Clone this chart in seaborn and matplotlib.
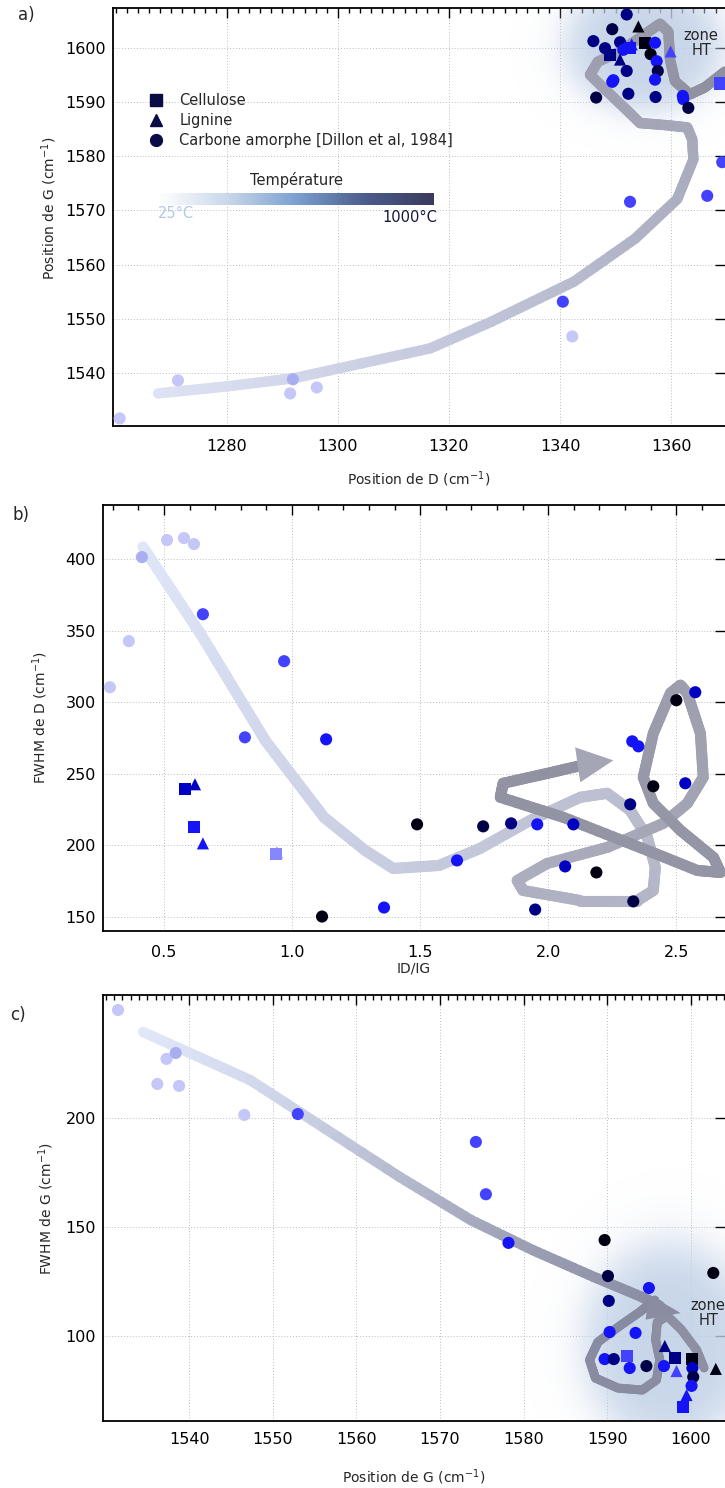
import numpy as np
import pandas as pd
import seaborn as sns
import matplotlib.pyplot as plt
from matplotlib.collections import LineCollection
from matplotlib.colors import LinearSegmentedColormap, Normalize, to_rgb
from matplotlib.lines import Line2D
from matplotlib.patches import Polygon
from matplotlib.ticker import MultipleLocator
import matplotlib.cm as cm

sns.set_style('white')
plt.rcParams['font.family'] = ['DejaVu Sans']
plt.rcParams['mathtext.default'] = 'regular'

# temperature shade of each point: 0 = low temperature (pale) ... 8 = 1000°C (black)
shade_colors = ['#c4c7f7', '#a9aef0', '#8686ff', '#4343ff', '#1414f6',
                '#0000c4', '#000084', '#000046', '#000012']
kind_names = {'S': 'Cellulose', 'L': 'Lignine', 'C': 'Carbone amorphe [Dillon et al, 1984]'}
kind_markers = {'S': 's', 'L': '^', 'C': 'o'}

# ---------------- a) position D vs position G
a_kind = ['C', 'C', 'L', 'C', 'C', 'C', 'S', 'C', 'S', 'L', 'L', 'S', 'C', 'C', 'C', 'L', 'C', 'C', 'C',
          'C', 'C', 'C', 'C', 'C', 'C', 'C', 'C', 'S', 'C', 'C', 'C', 'C', 'C', 'C', 'C', 'C', 'C', 'C']
a_posD = [1352.0, 1349.4, 1354.1, 1346.0, 1348.1, 1350.8, 1349.0, 1351.4, 1352.6, 1352.9, 1350.8, 1355.3,
          1357.1, 1356.3, 1357.4, 1359.9, 1352.0, 1357.6, 1349.4, 1349.6, 1357.1, 1352.3, 1346.5, 1357.2,
          1362.1, 1362.2, 1363.1, 1368.8, 1369.2, 1366.5, 1352.6, 1340.5, 1342.2, 1271.2, 1291.9, 1291.4,
          1296.2, 1260.7]
a_posG = [1606.1, 1603.4, 1603.9, 1601.2, 1599.9, 1601.0, 1598.7, 1599.6, 1599.9, 1600.6, 1597.8, 1600.9,
          1600.9, 1598.8, 1597.5, 1599.3, 1595.7, 1595.7, 1593.7, 1594.0, 1594.1, 1591.5, 1590.8, 1590.9,
          1591.1, 1590.5, 1588.9, 1593.4, 1578.9, 1572.7, 1571.6, 1553.2, 1546.8, 1538.7, 1538.9, 1536.3,
          1537.4, 1531.7]
a_shade = [6, 7, 8, 6, 6, 6, 6, 4, 4, 4, 6, 8, 4, 8, 4, 3, 6, 7, 4, 4, 4, 6, 7, 6, 4, 4, 7, 3, 3, 3, 3, 3,
           0, 0, 1, 0, 0, 0]
a_xticks = [1280, 1300, 1320, 1340, 1360]
a_yticks = [1540, 1550, 1560, 1570, 1580, 1590, 1600]

# ---------------- b) ID/IG vs FWHM D
b_kind = ['C'] * 14 + ['S', 'L', 'S', 'L', 'S', 'L'] + ['C'] * 15
b_ratio = [0.289, 0.363, 0.414, 0.512, 0.578, 0.617, 0.652, 0.969, 0.816, 1.133, 2.574, 2.500, 2.328, 2.352,
           0.582, 0.621, 0.617, 0.652, 0.938, 0.941,
           1.117, 1.359, 1.488, 1.644, 1.746, 1.855, 1.957, 2.098, 1.949, 2.066, 2.188, 2.332, 2.320, 2.410,
           2.535]
b_fwhmD = [310.5, 342.7, 401.4, 413.3, 414.7, 410.5, 361.5, 328.7, 275.5, 274.1, 307.0, 301.4, 272.7, 269.2,
           239.2, 242.7, 212.6, 201.4, 193.7, 195.1,
           150.3, 156.6, 214.7, 189.5, 213.3, 215.4, 214.7, 214.7, 155.2, 185.3, 181.1, 160.9, 228.7, 241.3,
           243.4]
b_shade = [0, 0, 1, 0, 0, 0, 3, 3, 3, 4, 5, 8, 4, 4,
           5, 5, 4, 4, 2, 2,
           8, 4, 8, 4, 7, 6, 4, 5, 6, 5, 8, 7, 6, 8, 5]
b_xticks = [0.5, 1.0, 1.5, 2.0, 2.5]
b_yticks = [150, 200, 250, 300, 350, 400]

# ---------------- c) position G vs FWHM G
c_kind = ['C'] * 17 + ['L', 'C', 'C', 'S', 'C', 'C', 'C', 'S', 'S', 'L', 'C', 'C', 'C', 'L', 'L', 'S']
c_posG = [1531.5, 1537.3, 1538.4, 1536.2, 1538.8, 1546.6, 1553.0, 1574.3, 1575.5, 1578.2, 1589.7, 1590.1,
          1590.2, 1602.7, 1595.0, 1590.3, 1593.4, 1596.9, 1589.7, 1590.8, 1592.4, 1592.7, 1594.7, 1596.8,
          1598.1, 1600.1, 1598.3, 1600.2, 1600.3, 1600.1, 1603.0, 1599.5, 1599.1]
c_fwhmG = [249.5, 227.1, 229.8, 215.6, 214.7, 201.4, 201.8, 189.0, 165.0, 142.7, 144.0, 127.5,
           116.1, 128.9, 122.0, 101.8, 101.4, 95.4, 89.4, 89.4, 90.8, 85.3, 86.2, 86.2,
           89.9, 89.4, 83.9, 85.3, 81.2, 77.1, 84.9, 72.9, 67.4]
c_shade = [0, 0, 1, 0, 0, 0, 3, 3, 3, 4, 8, 7, 6, 8, 4, 4, 4, 6, 4, 6, 3, 4, 7, 4, 6, 8, 3, 5, 7, 4, 8, 4, 4]
c_xticks = [1540, 1550, 1560, 1570, 1580, 1590, 1600]
c_yticks = [100, 150, 200]

# guide bands (hand traced)
band_a_D = [1267.6, 1280.0, 1292.1, 1316.6, 1327.6, 1342.5, 1353.5, 1361.1, 1364.0, 1363.8, 1362.9, 1359.3,
            1354.4, 1351.9, 1348.1, 1345.4, 1346.8, 1350.8, 1355.7, 1358.0, 1359.5, 1359.8, 1360.7, 1363.4,
            1366.1, 1369.7]
band_a_G = [1536.3, 1537.6, 1539.1, 1544.6, 1549.5, 1556.9, 1564.8, 1572.1, 1579.4, 1583.1, 1585.3, 1585.7,
            1586.1, 1588.6, 1592.3, 1595.0, 1597.4, 1599.3, 1602.8, 1604.4, 1602.9, 1597.8, 1593.8, 1591.4,
            1592.7, 1595.6]
band_b_ratio = [0.418, 0.641, 0.895, 1.125, 1.285, 1.395, 1.574, 1.734, 1.930, 2.125, 2.230, 2.320, 2.387,
                2.418, 2.410, 2.348, 2.125, 1.902, 1.879, 1.996, 2.230, 2.449, 2.543, 2.605, 2.594, 2.543,
                2.516, 2.477, 2.410, 2.371, 2.410, 2.516, 2.645, 2.672, 2.582, 2.387, 2.059, 1.813, 1.824,
                1.996, 2.164]
band_b_fwhm = [408.4, 348.3, 273.4, 219.6, 196.5, 183.9, 186.0, 197.9, 217.5, 233.6, 236.4, 224.5, 205.6,
               184.6, 168.5, 161.5, 161.5, 168.5, 175.5, 187.4, 198.6, 215.4, 229.4, 247.6, 278.3, 306.3,
               311.9, 306.3, 278.3, 247.6, 229.4, 210.5, 191.6, 181.1, 182.5, 196.5, 219.6, 233.6, 243.4,
               250.3, 257.3]
arrow_b_ratio = [2.105, 2.254, 2.125]
arrow_b_fwhm = [268.5, 259.4, 244.1]
band_c_G = [1534.5, 1547.3, 1565.2, 1573.7, 1581.1, 1588.4, 1593.9, 1596.3]
band_c_fwhm = [239.4, 217.4, 172.9, 153.2, 139.4, 127.1, 118.3, 113.8]
loop_c_G = [1595.7, 1593.9, 1591.5, 1588.9, 1587.9, 1588.6, 1591.3, 1594.2, 1595.9, 1596.3, 1595.8, 1596.0,
            1597.2, 1598.9, 1600.7, 1601.6]
loop_c_fwhm = [116.5, 111.0, 104.6, 97.2, 89.0, 80.7, 76.1, 75.2, 79.8, 89.0, 98.2, 106.4, 109.2, 102.8,
               93.6, 85.3]
arrow_c_G = [1595.0, 1598.8, 1594.6]
arrow_c_fwhm = [119.0, 110.5, 107.5]

W, H = 725, 1488
fig = plt.figure(figsize=(W / 100, H / 100), dpi=100)


def box(l, t, b):
    return [l / W, 1 - b / H, 1 - l / W, (b - t) / H]


ax_a = fig.add_axes(box(113, 8, 426))
ax_b = fig.add_axes(box(103, 505, 931))
ax_c = fig.add_axes(box(103, 995, 1421))

palette = {str(i): c for i, c in enumerate(shade_colors)}


def points(ax, xs, ys, kinds, shades):
    df = pd.DataFrame({'x': xs, 'y': ys, 'kind': kinds, 'shade': [str(s) for s in shades]})
    sns.scatterplot(data=df, x='x', y='y', hue='shade', palette=palette, style='kind',
                    markers=kind_markers, s=76, linewidth=0, legend=False, ax=ax, zorder=4)


def band(ax, xs, ys, stops, lw, xlim, ylim):
    # the traced polyline is drawn piece by piece so that its colour can shade along it
    xs, ys = np.asarray(xs), np.asarray(ys)
    px, py = [xs[0]], [ys[0]]
    for i in range(len(xs) - 1):
        n = 12
        f = np.arange(1, n + 1) / n
        px.extend(xs[i] + f * (xs[i + 1] - xs[i]))
        py.extend(ys[i] + f * (ys[i + 1] - ys[i]))
    px, py = np.array(px), np.array(py)
    u = (px - xlim[0]) / (xlim[1] - xlim[0])
    v = (py - ylim[0]) / (ylim[1] - ylim[0])
    d = np.concatenate([[0], np.cumsum(np.hypot(np.diff(u), np.diff(v)))])
    t = (d[:-1] + d[1:]) / 2 / d[-1]
    pts = np.column_stack([px, py])
    segs = np.stack([pts[:-1], pts[1:]], axis=1)
    cmap = LinearSegmentedColormap.from_list('band', stops)
    lc = LineCollection(segs, colors=cmap(t), linewidths=lw,
                        capstyle='round', joinstyle='round', zorder=3)
    ax.add_collection(lc)


def zone(ax, cx, cy, rx, ry, xlim, ylim):
    gx = np.linspace(xlim[0], xlim[1], 300)
    gy = np.linspace(ylim[0], ylim[1], 300)
    X, Y = np.meshgrid(gx, gy)
    r = np.hypot((X - cx) / rx, (Y - cy) / ry)
    rgba = np.zeros(X.shape + (4,))
    rgba[..., :3] = to_rgb('#bfcfe6')
    rgba[..., 3] = 0.85 / (1 + np.exp((r - 1) / 0.14))
    ax.imshow(rgba, extent=[xlim[0], xlim[1], ylim[0], ylim[1]], origin='lower',
              aspect='auto', zorder=1, interpolation='bilinear')


def style(ax, xlim, ylim, xticks, xmin, yticks, xpad):
    ax.set_xlim(xlim)
    ax.set_ylim(ylim)
    ax.set_xticks(xticks)
    ax.set_yticks(yticks)
    ax.xaxis.set_minor_locator(MultipleLocator(xmin))
    ax.grid(True, which='major', ls=(0, (1, 2)), color='#bdbdbd', lw=0.7, zorder=0)
    ax.set_axisbelow(True)
    ax.tick_params(which='both', direction='in', top=True, right=True, labelsize=11.5, width=1,
                   colors='black')
    ax.tick_params(which='major', length=7)
    ax.tick_params(which='minor', length=3.5)
    ax.tick_params(axis='x', pad=xpad)
    ax.tick_params(axis='y', pad=5)
    for s in ['left', 'bottom', 'top']:
        ax.spines[s].set_linewidth(1.3)
        ax.spines[s].set_color('black')
    ax.spines['right'].set_visible(False)


# ---- a
a_xlim, a_ylim = (1259.5, 1369.7), (1530.3, 1607.3)
zone(ax_a, 1355.3, 1600.5, 14.0, 12.0, a_xlim, a_ylim)
band(ax_a, band_a_D, band_a_G, ['#dde3f5', '#c6cade', '#b0b3c5', '#9fa1b2', '#8e909f'], 7.5, a_xlim, a_ylim)
points(ax_a, a_posD, a_posG, a_kind, a_shade)
style(ax_a, a_xlim, a_ylim, a_xticks, 2, a_yticks, 9)
ax_a.set_xlabel('Position de D (cm$^{-1}$)', fontsize=10)
ax_a.set_ylabel('Position de G (cm$^{-1}$)', fontsize=10)
ax_a.xaxis.set_label_coords(0.5, -0.105)
ax_a.yaxis.set_label_coords(-0.088, 0.52)
ax_a.text(1365.4, 1600.9, 'zone\nHT', ha='center', va='center', fontsize=10.5, linespacing=1.0, zorder=5)
handles = [Line2D([0], [0], marker=kind_markers[k], color='#0b0b46', ls='None', markersize=8.5)
           for k in ['S', 'L', 'C']]
ax_a.legend(handles, [kind_names[k] for k in ['S', 'L', 'C']], loc='upper left',
            bbox_to_anchor=(0.049, 0.81), frameon=False, fontsize=10.5, handletextpad=1.1,
            labelspacing=0.35, borderaxespad=0, handlelength=1.0)

# temperature bar
cax = fig.add_axes([158 / W, 1 - 205 / H, 276 / W, 12 / H])
tcmap = LinearSegmentedColormap.from_list('temp', ['#ffffff', '#c9d7ea', '#7ba0cf', '#4c5c8c', '#393a5c'])
cb = fig.colorbar(cm.ScalarMappable(norm=Normalize(25, 1000), cmap=tcmap), cax=cax, orientation='horizontal')
cb.outline.set_visible(False)
cb.set_ticks([])
fig.text(296 / W, 1 - 180 / H, 'Température', ha='center', va='center', fontsize=10.5)
fig.text(158 / W, 1 - 214 / H, '25°C', ha='left', va='center', fontsize=10.5, color='#b3c8e6')
fig.text(437 / W, 1 - 218 / H, '1000°C', ha='right', va='center', fontsize=10.5, color='#15153d')

# ---- b
b_xlim, b_ylim = (0.262, 2.69), (140.2, 437.8)
band(ax_b, band_b_ratio, band_b_fwhm, ['#dfe6f8', '#cdd2e6', '#b8bbcc', '#a3a5b5', '#9596a5', '#9092a2'],
     8.0, b_xlim, b_ylim)
ax_b.add_patch(Polygon(np.column_stack([arrow_b_ratio, arrow_b_fwhm]), closed=True,
                       color='#a4a6b6', zorder=3, lw=0))
points(ax_b, b_ratio, b_fwhmD, b_kind, b_shade)
style(ax_b, b_xlim, b_ylim, b_xticks, 0.1, b_yticks, 10)
ax_b.set_xlabel('ID/IG', fontsize=10)
ax_b.set_ylabel('FWHM de D (cm$^{-1}$)', fontsize=10)
ax_b.xaxis.set_label_coords(0.5, -0.072)
ax_b.yaxis.set_label_coords(-0.085, 0.5)

# ---- c
c_xlim, c_ylim = (1529.7, 1604.1), (61.0, 256.4)
zone(ax_c, 1597.5, 96.0, 10.0, 46.0, c_xlim, c_ylim)
band(ax_c, band_c_G, band_c_fwhm, ['#e0e8fa', '#d0d6ea', '#b8bcd0', '#9ea1b6', '#898da3'], 7.5, c_xlim, c_ylim)
band(ax_c, loop_c_G, loop_c_fwhm, ['#868aa0', '#8a8da2', '#8e90a2'], 6.5, c_xlim, c_ylim)
ax_c.add_patch(Polygon(np.column_stack([arrow_c_G, arrow_c_fwhm]), closed=True,
                       color='#8a8da2', zorder=3, lw=0))
points(ax_c, c_posG, c_fwhmG, c_kind, c_shade)
style(ax_c, c_xlim, c_ylim, c_xticks, 1, c_yticks, 8)
ax_c.text(1602.1, 110.6, 'zone\nHT', ha='center', va='center', fontsize=10.5, linespacing=1.0, zorder=5)
ax_c.set_xlabel('Position de G (cm$^{-1}$)', fontsize=10)
ax_c.set_ylabel('FWHM de G (cm$^{-1}$)', fontsize=10)
ax_c.xaxis.set_label_coords(0.5, -0.108)
ax_c.yaxis.set_label_coords(-0.076, 0.5)

fig.text(18 / W, 1 - 15 / H, 'a)', ha='left', va='center', fontsize=12)
fig.text(13 / W, 1 - 515 / H, 'b)', ha='left', va='center', fontsize=12)
fig.text(10 / W, 1 - 1015 / H, 'c)', ha='left', va='center', fontsize=12)

fig.savefig('out.png', dpi=100)
